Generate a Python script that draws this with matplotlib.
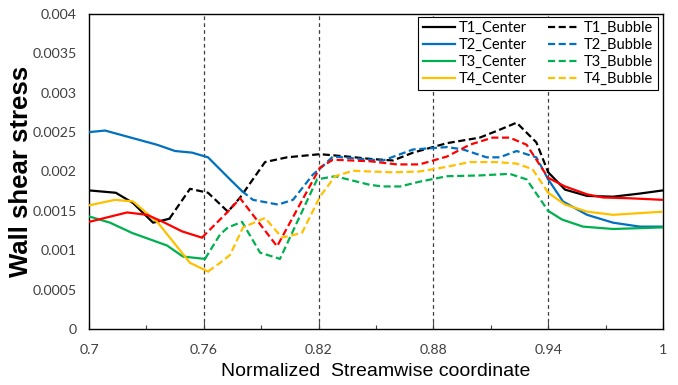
import numpy as np
import matplotlib
matplotlib.use("Agg")
import matplotlib.pyplot as plt
from matplotlib.ticker import FixedLocator

nan = np.nan

# ---- data ----
T1_center_x = [0.700, 0.714, 0.723, 0.7335, 0.742, nan, 0.940, 0.9488, 0.9603, 0.9739, 0.9879, 1.000]
T1_center_y = [0.00176, 0.00173, 0.00160, 0.00135, 0.00140, nan, 0.00199, 0.00177, 0.00169, 0.00168, 0.00172, 0.00176]
T1_bubble_x = [0.742, 0.7528, 0.7622, 0.7726, 0.779, 0.792, 0.8035, 0.8207, 0.835, 0.8469, 0.8589, 0.8694, 0.8871, 0.9042, 0.9136, 0.9235, 0.9338, 0.940]
T1_bubble_y = [0.00140, 0.00178, 0.00173, 0.00149, 0.00167, 0.00212, 0.00218, 0.00222, 0.00219, 0.00216, 0.00214, 0.00224, 0.00236, 0.00243, 0.00252, 0.00262, 0.00237, 0.00199]

T2_center_x = [0.700, 0.7084, 0.7355, 0.745, 0.7538, 0.7622, 0.7737, 0.780, nan, 0.940, 0.9477, 0.9603, 0.9739, 0.9879, 1.000]
T2_center_y = [0.00250, 0.00252, 0.00234, 0.00226, 0.00224, 0.00218, 0.00190, 0.00175, nan, 0.00190, 0.00162, 0.00145, 0.00135, 0.00130, 0.00130]
T2_bubble_x = [0.780, 0.7857, 0.7988, 0.8066, 0.817, 0.8218, 0.8275, 0.8469, 0.8537, 0.8694, 0.8871, 0.8955, 0.9078, 0.9146, 0.9235, 0.9338, 0.940]
T2_bubble_y = [0.00175, 0.00164, 0.00158, 0.00164, 0.00196, 0.00206, 0.00219, 0.00215, 0.00214, 0.00228, 0.00231, 0.00228, 0.00218, 0.00218, 0.00226, 0.00218, 0.00190]

T3_center_x = [0.700, 0.711, 0.7225, 0.7408, 0.7491, 0.7606, nan, 0.940, 0.9472, 0.9582, 0.9739, 1.000]
T3_center_y = [0.00143, 0.00135, 0.00122, 0.00106, 0.00092, 0.00089, nan, 0.00150, 0.00139, 0.00130, 0.00127, 0.00129]
T3_bubble_x = [0.7606, 0.7685, 0.7726, 0.780, 0.7894, 0.7998, 0.8192, 0.8286, 0.8469, 0.8537, 0.8626, 0.8727, 0.8871, 0.9042, 0.9199, 0.9287, 0.940]
T3_bubble_y = [0.00089, 0.00120, 0.00129, 0.00136, 0.00097, 0.00089, 0.00190, 0.00194, 0.00183, 0.00181, 0.00181, 0.00187, 0.00194, 0.00195, 0.00197, 0.00190, 0.00150]

T4_center_x = [0.700, 0.7136, 0.723, 0.736, 0.7528, 0.7622, nan, 0.940, 0.9488, 0.9603, 0.9739, 0.9869, 1.000]
T4_center_y = [0.00157, 0.00164, 0.00162, 0.00135, 0.00084, 0.00073, nan, 0.00173, 0.00158, 0.00149, 0.00145, 0.00147, 0.00149]
T4_bubble_x = [0.7622, 0.7685, 0.7737, 0.7805, 0.792, 0.8009, 0.8113, 0.8207, 0.8286, 0.838, 0.8469, 0.8589, 0.8727, 0.8871, 0.899, 0.9131, 0.9235, 0.9318, 0.940]
T4_bubble_y = [0.00073, 0.00084, 0.00094, 0.00129, 0.00141, 0.00116, 0.00122, 0.00168, 0.00194, 0.00201, 0.00200, 0.00199, 0.00200, 0.00206, 0.00212, 0.00212, 0.00210, 0.00203, 0.00173]

R_center_x = [0.700, 0.7199, 0.7303, 0.7387, 0.7486, 0.759, nan, 0.940, 0.9488, 0.9603, 0.9687, 0.9826, 1.000]
R_center_y = [0.00136, 0.00148, 0.00145, 0.00136, 0.00124, 0.00116, nan, 0.00192, 0.00181, 0.00171, 0.00167, 0.00166, 0.00164]
R_bubble_x = [0.759, 0.7726, 0.779, 0.7983, 0.8207, 0.8275, 0.8469, 0.861, 0.8727, 0.8871, 0.899, 0.9109, 0.9199, 0.9287, 0.940]
R_bubble_y = [0.00116, 0.00149, 0.00166, 0.00105, 0.00205, 0.00215, 0.00213, 0.00209, 0.00209, 0.00219, 0.00234, 0.00243, 0.00243, 0.00234, 0.00192]

section_lines = [0.76, 0.82, 0.88, 0.94]
x_ticks = [0.7, 0.76, 0.82, 0.88, 0.94, 1.0]
x_minor_ticks = [0.73, 0.79, 0.85, 0.91, 0.97]
x_tick_labels = ["0.7", "0.76", "0.82", "0.88", "0.94", "1"]
y_ticks = [0, 0.0005, 0.001, 0.0015, 0.002, 0.0025, 0.003, 0.0035, 0.004]
y_tick_labels = ["0", "0.0005", "0.001", "0.0015", "0.002", "0.0025", "0.003", "0.0035", "0.004"]

colors = {"T1": "#000000", "T2": "#0070C0", "T3": "#00B050", "T4": "#FFC000", "R": "#FF0000"}

fig = plt.figure(figsize=(6.78, 3.85), dpi=100)
ax = fig.add_axes([89/678, 1-329/385, (663-89)/678, (329-14)/385])

for xv in section_lines:
    ax.axvline(xv, color="#404040", lw=0.9, ls=(0, (3, 2.5)), zorder=1)

lw = 1.6
dash = (0, (3.2, 1.6))
series = [
    ("T1", T1_center_x, T1_center_y, T1_bubble_x, T1_bubble_y, True),
    ("T2", T2_center_x, T2_center_y, T2_bubble_x, T2_bubble_y, True),
    ("T3", T3_center_x, T3_center_y, T3_bubble_x, T3_bubble_y, True),
    ("T4", T4_center_x, T4_center_y, T4_bubble_x, T4_bubble_y, True),
    ("R", R_center_x, R_center_y, R_bubble_x, R_bubble_y, False),
]
center_handles, bubble_handles = [], []
for name, cx, cy, bx, by, lab in series:
    c = colors[name]
    h1, = ax.plot(cx, cy, color=c, lw=lw, zorder=3,
                  label=(name + "_Center") if lab else "_nolegend_")
    h2, = ax.plot(bx, by, color=c, lw=lw, ls=dash, zorder=3,
                  label=(name + "_Bubble") if lab else "_nolegend_")
    if lab:
        center_handles.append(h1)
        bubble_handles.append(h2)

ax.set_xlim(0.7, 1.0)
ax.set_ylim(0, 0.004)
ax.set_xticks(x_ticks)
ax.set_xticklabels(x_tick_labels)
ax.xaxis.set_minor_locator(FixedLocator(x_minor_ticks))
ax.set_yticks(y_ticks)
ax.set_yticklabels(y_tick_labels)

tick_font = "Lato"
for lbl in ax.get_xticklabels() + ax.get_yticklabels():
    lbl.set_fontfamily(tick_font)
    lbl.set_fontsize(10.2)
    lbl.set_color("#404040")
ax.tick_params(axis="x", which="major", direction="in", length=5, width=0.8, pad=11, colors="#404040", labelcolor="#404040")
ax.tick_params(axis="x", which="minor", direction="in", length=3, width=0.8, colors="#404040")
ax.tick_params(axis="y", which="both", length=0, pad=9)

for sp in ax.spines.values():
    sp.set_color("black")
    sp.set_linewidth(1.0)

ax.set_xlabel("Normalized  Streamwise coordinate", fontfamily="Liberation Sans", fontsize=14, labelpad=5)
ax.set_ylabel("Wall shear stress", fontfamily="Liberation Sans", fontweight="bold", fontsize=18.5)
ax.yaxis.set_label_coords(-0.098, 0.5)

handles = center_handles + bubble_handles
leg = ax.legend(handles=handles, labels=[h.get_label() for h in handles], ncol=2,
                loc="upper right", bbox_to_anchor=(0.991, 0.991), frameon=True, fancybox=False,
                edgecolor="black", framealpha=1, prop={"family": tick_font, "size": 10.5},
                handlelength=2.2, handletextpad=0.3, columnspacing=1.4, labelspacing=0.2,
                borderpad=0.3, borderaxespad=0)
leg.get_frame().set_linewidth(0.8)

fig.savefig("out.png", dpi=100)
